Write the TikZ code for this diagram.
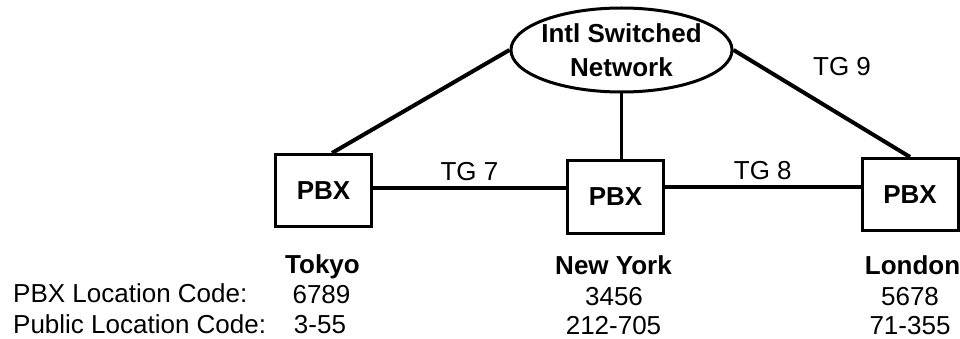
\documentclass[tikz,border=0pt]{standalone}
\usepackage{fontspec}
\setmainfont{Liberation Sans}
\usetikzlibrary{shapes.geometric}

\tikzset{
  pbx/.style={draw, line width=3pt, minimum width=96pt, minimum height=72pt,
    inner sep=0pt, font=\fontsize{26}{31}\selectfont\bfseries},
  trunk/.style={line width=4pt},
  lbl/.style={inner sep=1pt, font=\fontsize{26}{31}\selectfont},
}

\begin{document}
\begin{tikzpicture}[x=1pt, y=-1pt]
  \useasboundingbox (0,0) rectangle (960,339);

  % Define the network cloud and the switches
  \node[ellipse, draw, line width=3pt, minimum width=221pt, minimum height=84pt,
    inner xsep=-2pt, inner ysep=0pt, align=center,
    font=\fontsize{26}{34}\selectfont\bfseries] (net) at (621.5,50) {Intl Switched\\Network};
  \node[pbx] (tk) at (323.5,190.5) {PBX};
  \node[pbx] (ny) at (615.5,197) {PBX};
  \node[pbx] (ld) at (910,194.5) {PBX};

  % Draw the trunk groups
  \draw[trunk] (tk.east |- 0,188) -- node[lbl, above=4.5pt] (tg7) {TG 7} (ny.west |- 0,188);
  \draw[trunk] (ny.east |- 0,187) -- node[lbl, above=4.5pt] (tg8) {TG 8} (ld.west |- 0,187);
  \draw[trunk] (net.west) -- ([xshift=8.5pt]tk.north);
  \draw[trunk] (net.east) -- (ld.north);
  \draw[line width=2.5pt] (net.south) -- (net.south |- ny.north);
  \node[lbl] (tg9) at (842,67) {TG 9};

  % Label the locations
  \node[lbl, anchor=base west] (pbxcode) at (12,302) {PBX Location Code:};
  \node[lbl, anchor=base west] (pubcode) at (12,333.5) {Public Location Code:};

  \node[lbl, anchor=base] (tkname) at (322.5,273.5) {\bfseries Tokyo};
  \node[lbl, anchor=base] (tkpbx) at (321.5,303.5) {6789};
  \node[lbl, anchor=base] (tkpub) at (320,333.5) {3-55};

  \node[lbl, anchor=base] (nyname) at (613.5,274.5) {\bfseries New York};
  \node[lbl, anchor=base] (nypbx) at (614,305) {3456};
  \node[lbl, anchor=base] (nypub) at (613.5,334.5) {212-705};

  \node[lbl, anchor=base] (ldname) at (912.5,274.5) {\bfseries London};
  \node[lbl, anchor=base] (ldpbx) at (910,305) {5678};
  \node[lbl, anchor=base] (ldpub) at (910,334.5) {71-355};

\end{tikzpicture}
\end{document}
